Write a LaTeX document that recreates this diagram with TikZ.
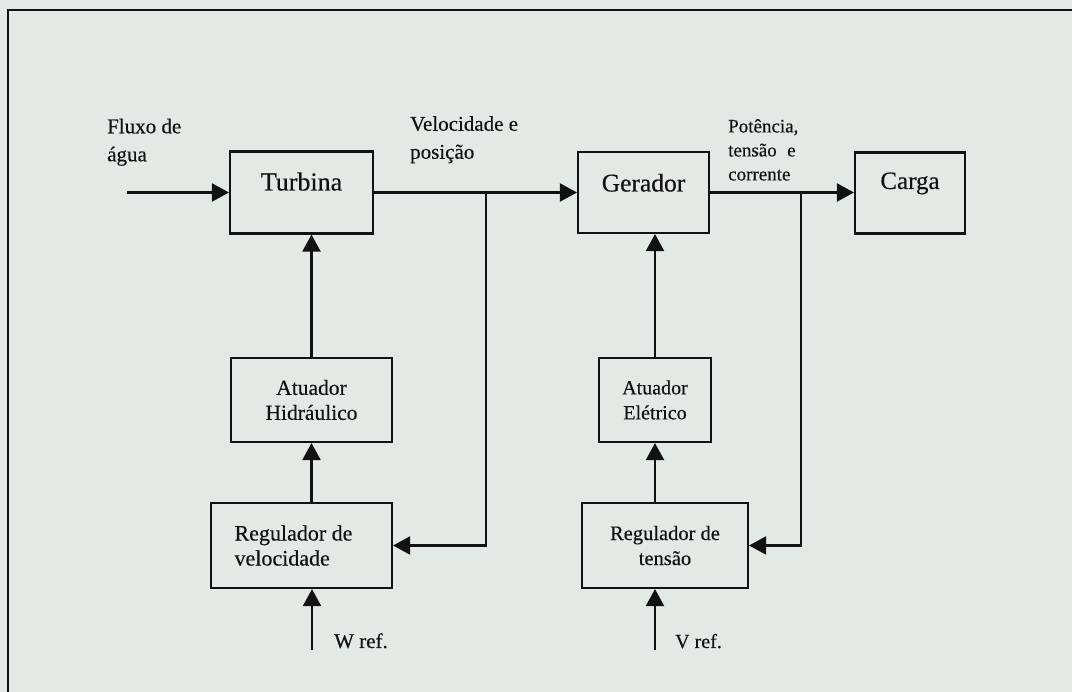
\documentclass[tikz,border=0pt]{standalone}
\usepackage{fontspec}
\setmainfont{Liberation Serif}[FakeBold=0.35]
\usetikzlibrary{arrows.meta}
\definecolor{paper}{RGB}{227,233,227}
\definecolor{ink}{RGB}{18,18,18}
\begin{document}
\begin{tikzpicture}[x=1pt,y=-1pt,
  blk/.style={draw=ink,line width=2.1pt,inner sep=0pt,text=ink,align=center},
  wire/.style={draw=ink,line width=2.1pt},
  arr/.style={wire,-{Triangle[length=17pt,width=18pt]}},
  lbl/.style={inner sep=0pt,text=ink,align=left}]
% page and frame
\fill[paper] (0,0) rectangle (1072,692);
\useasboundingbox (0,0) rectangle (1072,692);
\draw[ink,line width=2.6pt] (1072,10) -- (8,10) -- (8,692);

% main chain
\node[blk,minimum width=143pt,minimum height=82pt,font=\fontsize{26}{30}\selectfont,
      text height=12pt,text depth=16pt] (turb) at (301.5,192.5) {Turbina};
\node[blk,minimum width=131pt,minimum height=81pt,font=\fontsize{25.5}{30}\selectfont,
      text height=12pt,text depth=14pt] (ger) at (643.5,192.5) {Gerador};
\node[blk,minimum width=110pt,minimum height=81pt,font=\fontsize{25}{30}\selectfont,
      text height=12pt,text depth=20pt] (carga) at (910,193) {Carga};

% actuators
\node[blk,minimum width=161pt,minimum height=84pt,font=\fontsize{21.5}{25}\selectfont]
      (atH) at (311.5,400) {Atuador\\Hidráulico};
\node[blk,minimum width=112pt,minimum height=84pt,font=\fontsize{20}{25}\selectfont]
      (atE) at (655,400) {Atuador\\Elétrico};

% regulators
\node[blk,minimum width=181pt,minimum height=85pt,font=\fontsize{22}{25}\selectfont,align=left]
      (regV) at (301.5,545.5) {Regulador de\hspace*{16pt}\\velocidade};
\node[blk,minimum width=166pt,minimum height=85pt,font=\fontsize{20.5}{25}\selectfont]
      (regT) at (665,545.5) {Regulador de\\tensão};

% signal labels
\node[lbl,anchor=north west,font=\fontsize{21}{28}\selectfont] (lfl) at (107,118.5) {Fluxo de\\água};
\node[lbl,anchor=north west,font=\fontsize{21}{28}\selectfont] (lvp) at (410,116) {Velocidade e\\posição};
\node[lbl,anchor=north west,font=\fontsize{19}{24}\selectfont] (lpt) at (728,119) {Potência,\\tensão\hspace{0.3em} e\\corrente};
\node[lbl,anchor=base west,font=\fontsize{21}{25}\selectfont] (lw) at (334,648) {W ref.};
\node[lbl,anchor=base west,font=\fontsize{20}{25}\selectfont] (lv) at (675,648) {V ref.};

% connectors
\coordinate (fin) at (127,192.5);
\coordinate (bv) at (486,192.5);
\coordinate (bt) at (801,192.5);
\coordinate (wr) at (312,650);
\coordinate (vr) at (655,650);

\draw[arr] (fin) -- (turb.west);
\draw[arr] (turb.east) -- (ger.west);
\draw[arr] (ger.east) -- (carga.west |- ger.east);
\draw[arr] (bv) |- (regV.east);
\draw[arr] (bt) |- (regT.east);
\draw[arr] (atH.north) -- (atH.north |- turb.south);
\draw[arr] (regV.north -| atH.north) -- (atH.south);
\draw[arr] (atE.north) -- (atE.north |- ger.south);
\draw[arr] (regT.north -| atE.north) -- (atE.south);
\draw[arr] (wr) -- (wr |- regV.south);
\draw[arr] (vr) -- (vr |- regT.south);
\end{tikzpicture}
\end{document}
